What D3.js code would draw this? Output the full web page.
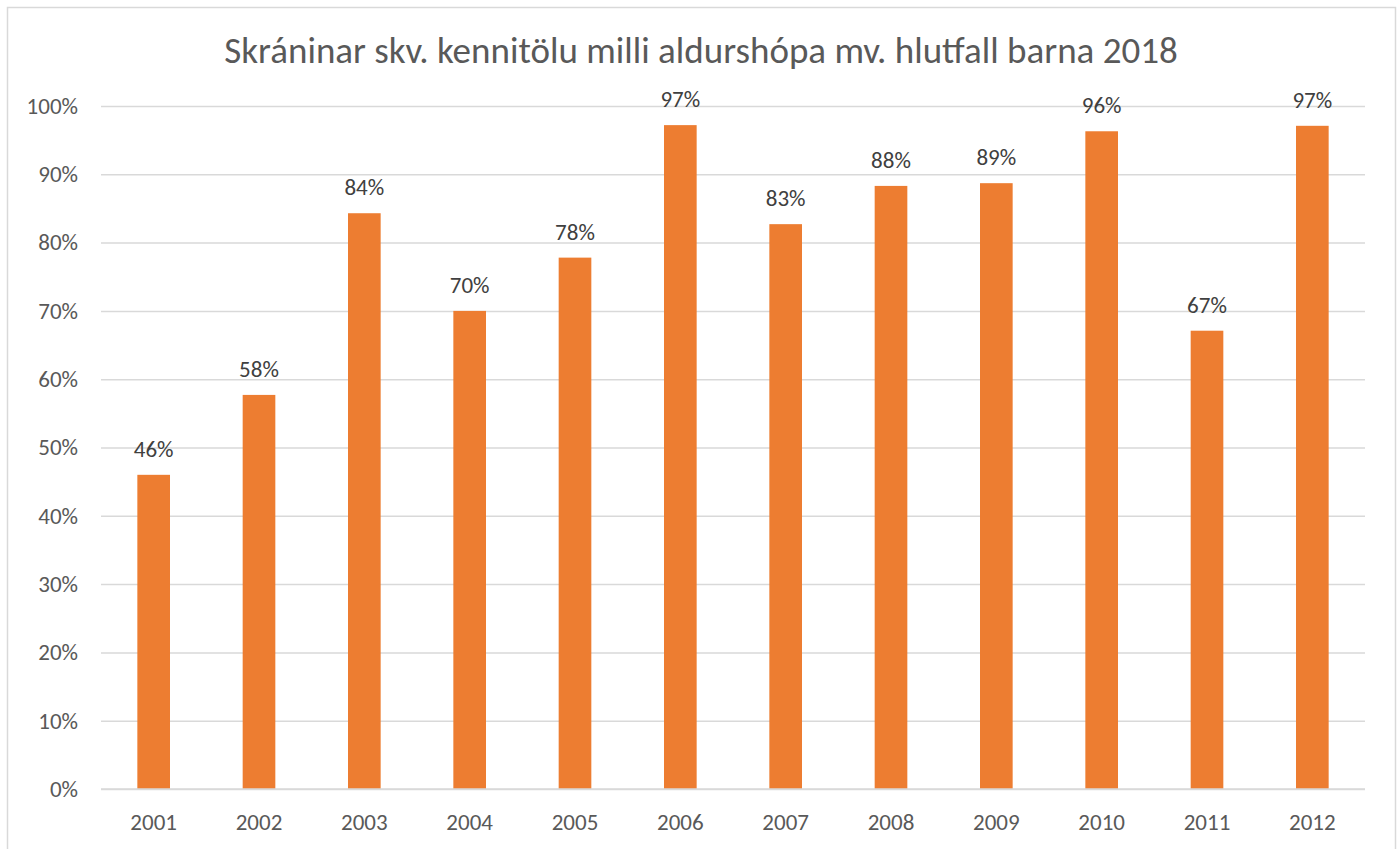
<!DOCTYPE html>
<html>
<head>
<meta charset="utf-8">
<script src="https://cdn.jsdelivr.net/npm/d3@7"></script>
<style>
  body { margin: 0; background: #fff; }
  text { font-family: Carlito, "Open Sans", "Liberation Sans", sans-serif; }
</style>
</head>
<body>
<div id="chart"></div>
<script>
const years = ['2001', '2002', '2003', '2004', '2005', '2006', '2007', '2008', '2009', '2010', '2011', '2012'];
const shares = [0.46, 0.577, 0.843, 0.70, 0.778, 0.972, 0.827, 0.883, 0.887, 0.963, 0.671, 0.971];
const yTicks = [0, 0.1, 0.2, 0.3, 0.4, 0.5, 0.6, 0.7, 0.8, 0.9, 1.0];
const title = 'Skráninar skv. kennitölu milli aldurshópa mv. hlutfall barna 2018';

const width = 1399, height = 849;
const plot = { left: 101, right: 1365, top: 106, bottom: 789 };

const svg = d3.select('#chart').append('svg')
  .attr('width', width)
  .attr('height', height);

// chart frame
svg.append('rect')
  .attr('x', 7.5).attr('y', 7.5)
  .attr('width', 1388).attr('height', 860)
  .attr('fill', '#fff')
  .attr('stroke', '#d9d9d9')
  .attr('stroke-width', 1.5);

const x = d3.scaleBand()
  .domain(years)
  .range([plot.left, plot.right])
  .paddingInner(0.69)
  .paddingOuter(0.345);

const y = d3.scaleLinear()
  .domain([0, 1])
  .range([plot.bottom, plot.top]);

// gridlines + y labels
const yAxis = svg.append('g')
  .attr('transform', `translate(${plot.left},0)`)
  .call(d3.axisLeft(y).tickValues(yTicks).tickFormat(d3.format('.0%'))
    .tickSize(-(plot.right - plot.left)).tickPadding(23));
yAxis.select('.domain').remove();
yAxis.selectAll('line').attr('stroke', '#d9d9d9').attr('stroke-width', 1.5);
yAxis.selectAll('text').attr('fill', '#595959').style('font-size', '23px');

// x labels
const xAxis = svg.append('g')
  .attr('transform', `translate(0,${plot.bottom})`)
  .call(d3.axisBottom(x).tickSize(0).tickPadding(25));
xAxis.select('.domain').remove();
xAxis.selectAll('text').attr('fill', '#595959').style('font-size', '23px');

// bars
svg.append('g').selectAll('rect')
  .data(years)
  .join('rect')
    .attr('x', d => x(d))
    .attr('y', (d, i) => y(shares[i]))
    .attr('width', x.bandwidth())
    .attr('height', (d, i) => y(0) - y(shares[i]))
    .attr('fill', '#ed7d31');

// zero line on top
svg.append('line')
  .attr('x1', plot.left).attr('x2', plot.right)
  .attr('y1', y(0)).attr('y2', y(0))
  .attr('stroke', '#d9d9d9').attr('stroke-width', 1.5);

// data labels
svg.append('g').selectAll('text')
  .data(years)
  .join('text')
    .attr('x', d => x(d) + x.bandwidth() / 2)
    .attr('y', (d, i) => y(shares[i]) - 18)
    .attr('text-anchor', 'middle')
    .attr('fill', '#404040')
    .style('font-size', '23px')
    .text((d, i) => d3.format('.0%')(shares[i]));

// title
svg.append('text')
  .attr('x', 701)
  .attr('y', 63)
  .attr('text-anchor', 'middle')
  .attr('fill', '#595959')
  .style('font-size', '37px')
  .text(title);
</script>
</body>
</html>
